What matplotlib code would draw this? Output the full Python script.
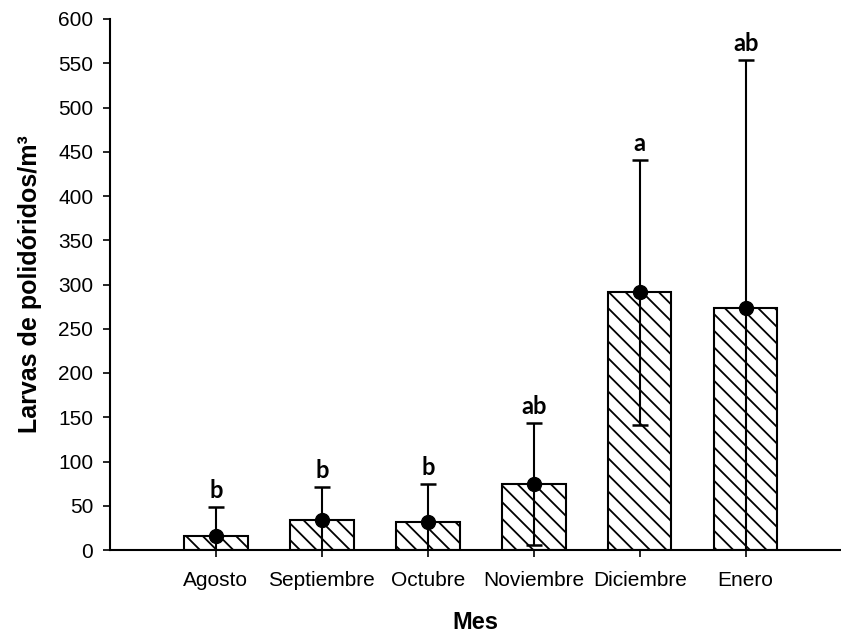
import matplotlib
matplotlib.use("Agg")
import matplotlib.pyplot as plt
import numpy as np

# Monthly means of polydorid larvae with error and group letters
meses = ["Agosto", "Septiembre", "Octubre", "Noviembre", "Diciembre", "Enero"]
media = [16, 34, 32, 75, 291, 274]
error = [33, 37, 43, 69, 150, 280]
letras = ["b", "b", "b", "ab", "a", "ab"]

plt.rcParams["font.family"] = ["Liberation Sans", "DejaVu Sans"]
plt.rcParams["hatch.linewidth"] = 1.3

fig = plt.figure(figsize=(8.41, 6.38), dpi=100)
ax = fig.add_axes([110 / 841, 88 / 638, 731 / 841, 531 / 638])

x = np.arange(1, len(meses) + 1)
ax.bar(x, media, width=0.6, color="white", edgecolor="black", linewidth=1.5,
       hatch="\\\\", zorder=2)
ax.errorbar(x, media, yerr=error, fmt="o", color="black", markersize=10,
            elinewidth=1.5, capsize=5.5, capthick=1.8, zorder=3)

# group letters above the upper caps
for xi, m, e, l in zip(x, media, error, letras):
    ax.annotate(l, (xi, m + e), xytext=(0, 6.5), textcoords="offset points",
                ha="center", va="baseline", fontsize=17, fontweight="bold",
                family="Lato")

ax.set_xlim(0, 6.9)
ax.set_ylim(0, 600)
ax.set_yticks(np.arange(0, 601, 50))
ax.set_xticks(x)
ax.set_xticklabels(meses)

for s in ["top", "right"]:
    ax.spines[s].set_visible(False)
for s in ["left", "bottom"]:
    ax.spines[s].set_linewidth(1.5)
ax.tick_params(axis="both", direction="out", length=5, width=1.2,
               labelsize=15)
ax.tick_params(axis="x", pad=10)
ax.tick_params(axis="y", pad=7)

ax.set_xlabel("Mes", fontsize=17, fontweight="bold", labelpad=15)
ax.set_ylabel("Larvas de polidóridos/m³", fontsize=18, fontweight="bold",
              labelpad=12)

fig.savefig("out.png", dpi=100)
